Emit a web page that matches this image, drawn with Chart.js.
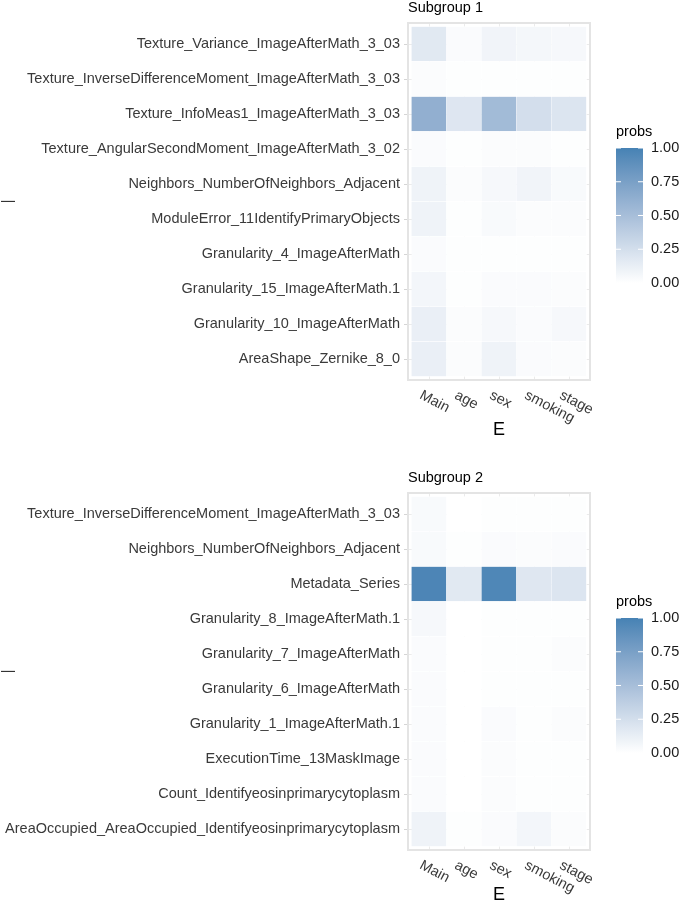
<!DOCTYPE html>
<html>
<head>
<meta charset="utf-8">
<script src="https://cdn.jsdelivr.net/npm/chart.js@4.4.1/dist/chart.umd.min.js"></script>
<style>
  body { margin: 0; background: #fff; }
  .panel { position: relative; width: 680px; }
  #wrap1 { height: 460px; }
  #wrap2 { height: 459px; }
</style>
</head>
<body>
<div class="panel" id="wrap1"><canvas id="chart1"></canvas></div>
<div class="panel" id="wrap2"><canvas id="chart2"></canvas></div>
<script>
// --- Data ---
const columns = ['Main', 'age', 'sex', 'smoking', 'stage'];
const legendTicks = [0, 0.25, 0.5, 0.75, 1];

const rows1 = [
    'Texture_Variance_ImageAfterMath_3_03',
    'Texture_InverseDifferenceMoment_ImageAfterMath_3_03',
    'Texture_InfoMeas1_ImageAfterMath_3_03',
    'Texture_AngularSecondMoment_ImageAfterMath_3_02',
    'Neighbors_NumberOfNeighbors_Adjacent',
    'ModuleError_11IdentifyPrimaryObjects',
    'Granularity_4_ImageAfterMath',
    'Granularity_15_ImageAfterMath.1',
    'Granularity_10_ImageAfterMath',
    'AreaShape_Zernike_8_0'
];
const s1Main    = [0.17, 0.02, 0.62, 0.03, 0.09, 0.09, 0.03, 0.07, 0.12, 0.12];
const s1Age     = [0.03, 0.01, 0.19, 0.01, 0.02, 0.01, 0.01, 0.01, 0.02, 0.02];
const s1Sex     = [0.08, 0.01, 0.53, 0.02, 0.05, 0.04, 0.01, 0.03, 0.05, 0.09];
const s1Smoking = [0.06, 0.01, 0.25, 0.02, 0.08, 0.02, 0.01, 0.03, 0.03, 0.03];
const s1Stage   = [0.05, 0.01, 0.20, 0.01, 0.04, 0.02, 0.01, 0.02, 0.05, 0.02];

const rows2 = [
    'Texture_InverseDifferenceMoment_ImageAfterMath_3_03',
    'Neighbors_NumberOfNeighbors_Adjacent',
    'Metadata_Series',
    'Granularity_8_ImageAfterMath.1',
    'Granularity_7_ImageAfterMath',
    'Granularity_6_ImageAfterMath',
    'Granularity_1_ImageAfterMath.1',
    'ExecutionTime_13MaskImage',
    'Count_Identifyeosinprimarycytoplasm',
    'AreaOccupied_AreaOccupied_Identifyeosinprimarycytoplasm'
];
const s2Main    = [0.04, 0.04, 0.97, 0.05, 0.03, 0.03, 0.03, 0.03, 0.03, 0.09];
const s2Age     = [0.00, 0.01, 0.17, 0.00, 0.00, 0.00, 0.00, 0.00, 0.00, 0.01];
const s2Sex     = [0.01, 0.03, 0.96, 0.01, 0.01, 0.01, 0.03, 0.02, 0.02, 0.03];
const s2Smoking = [0.01, 0.02, 0.18, 0.01, 0.01, 0.01, 0.01, 0.01, 0.01, 0.07];
const s2Stage   = [0.01, 0.03, 0.20, 0.01, 0.02, 0.01, 0.02, 0.01, 0.01, 0.02];

const FONT = '"Liberation Sans", Arial, sans-serif';
const LOW = [255, 255, 255];
const HIGH = [70, 130, 180]; // steelblue

// --- Escala de color: blanco -> steelblue, interpolada en Lab ---
function toLab(rgb) {
    const lin = rgb.map(v => { v /= 255; return v <= 0.04045 ? v / 12.92 : Math.pow((v + 0.055) / 1.055, 2.4); });
    const X = (lin[0] * 0.4124 + lin[1] * 0.3576 + lin[2] * 0.1805) / 0.95047;
    const Y = (lin[0] * 0.2126 + lin[1] * 0.7152 + lin[2] * 0.0722);
    const Z = (lin[0] * 0.0193 + lin[1] * 0.1192 + lin[2] * 0.9505) / 1.08883;
    const f = t => t > 0.008856 ? Math.cbrt(t) : 7.787 * t + 16 / 116;
    return [116 * f(Y) - 16, 500 * (f(X) - f(Y)), 200 * (f(Y) - f(Z))];
}

function fromLab(lab) {
    const fy = (lab[0] + 16) / 116, fx = fy + lab[1] / 500, fz = fy - lab[2] / 200;
    const inv = t => t * t * t > 0.008856 ? t * t * t : (t - 16 / 116) / 7.787;
    const X = inv(fx) * 0.95047, Y = inv(fy), Z = inv(fz) * 1.08883;
    const lin = [
        X * 3.2406 - Y * 1.5372 - Z * 0.4986,
        -X * 0.9689 + Y * 1.8758 + Z * 0.0415,
        X * 0.0557 - Y * 0.2040 + Z * 1.0570
    ];
    return lin.map(v => {
        v = v <= 0.0031308 ? 12.92 * v : 1.055 * Math.pow(v, 1 / 2.4) - 0.055;
        return Math.max(0, Math.min(255, Math.round(v * 255)));
    });
}

const LAB_LOW = toLab(LOW), LAB_HIGH = toLab(HIGH);

function heatColor(p) {
    const c = fromLab(LAB_LOW.map((lo, k) => lo + (LAB_HIGH[k] - lo) * p));
    return `rgb(${c[0]}, ${c[1]}, ${c[2]})`;
}

// una celda = barra flotante [j, j+1] en la fila i
function buildCells(series) {
    const cells = [];
    series.forEach((vals, j) => {
        vals.forEach((p, i) => cells.push({ x: [j, j + 1], y: i, p: p }));
    });
    return cells;
}

const decorPlugin = {
    id: 'decor',
    afterDraw(chart, args, opts) {
        const { ctx, chartArea: a, scales: { x } } = chart;
        ctx.save();

        // borde del panel
        ctx.strokeStyle = '#E4E4E4';
        ctx.lineWidth = 2;
        ctx.strokeRect(a.left, a.top, a.right - a.left, a.bottom - a.top);

        // titulo
        ctx.fillStyle = '#000';
        ctx.font = `14.5px ${FONT}`;
        ctx.textAlign = 'left';
        ctx.textBaseline = 'middle';
        ctx.fillText(opts.title, a.left, a.top - 15);

        // etiquetas del eje x, giradas
        ctx.fillStyle = '#3A3A3A';
        ctx.textBaseline = 'top';
        columns.forEach((c, j) => {
            const px = x.getPixelForValue(j + 0.5);
            ctx.save();
            ctx.translate(px - 5, a.bottom + 8);
            ctx.rotate(Math.PI / 6.5);
            ctx.fillText(c, 0, 0);
            ctx.restore();
        });

        // titulo eje x
        ctx.fillStyle = '#000';
        ctx.font = `18px ${FONT}`;
        ctx.textAlign = 'center';
        ctx.textBaseline = 'middle';
        ctx.fillText('E', (a.left + a.right) / 2, a.bottom + opts.xTitleGap);

        // barra de color (leyenda)
        const bx = a.right + 26, bw = 27;
        const by = a.top + 125, bh = 135;
        const grad = ctx.createLinearGradient(0, by, 0, by + bh);
        for (let k = 0; k <= 10; k++) grad.addColorStop(k / 10, heatColor(1 - k / 10));
        ctx.fillStyle = grad;
        ctx.fillRect(bx, by, bw, bh);

        ctx.fillStyle = '#000';
        ctx.font = `14.5px ${FONT}`;
        ctx.textAlign = 'left';
        ctx.textBaseline = 'middle';
        ctx.fillText('probs', bx, by - 16);

        ctx.strokeStyle = '#fff';
        ctx.lineWidth = 1;
        legendTicks.forEach(t => {
            const ty = by + bh * (1 - t);
            ctx.beginPath();
            ctx.moveTo(bx, ty); ctx.lineTo(bx + 5, ty);
            ctx.moveTo(bx + bw - 5, ty); ctx.lineTo(bx + bw, ty);
            ctx.stroke();
            ctx.fillStyle = '#1A1A1A';
            ctx.fillText(t.toFixed(2), bx + bw + 8, ty);
        });

        ctx.restore();
    }
};

function makeHeatmap(canvasId, rows, series, title, topPad, bottomSpace, xTitleGap) {
    const ctx = document.getElementById(canvasId).getContext('2d');
    return new Chart(ctx, {
        type: 'bar',
        data: {
            datasets: [{
                data: buildCells(series),
                backgroundColor: c => heatColor(c.raw.p),
                borderColor: '#fff',
                borderWidth: 0.6,
                barPercentage: 1,
                categoryPercentage: 1
            }]
        },
        options: {
            indexAxis: 'y',
            responsive: true,
            maintainAspectRatio: false,
            animation: false,
            events: [],
            layout: { padding: { top: topPad, right: 90, left: 0, bottom: 0 } },
            plugins: {
                legend: { display: false },
                tooltip: { enabled: false },
                decor: { title: title, xTitleGap: xTitleGap }
            },
            scales: {
                x: {
                    type: 'linear',
                    min: -0.1,
                    max: 5.1,
                    afterBuildTicks: s => { s.ticks = columns.map((c, j) => ({ value: j + 0.5 })); },
                    afterFit: s => { s.height = bottomSpace; },
                    ticks: { display: false },
                    grid: { color: '#EBEBEB', drawTicks: false },
                    border: { display: false }
                },
                y: {
                    type: 'linear',
                    reverse: true,
                    offset: false,
                    min: -0.6,
                    max: 9.6,
                    afterBuildTicks: s => { s.ticks = rows.map((r, i) => ({ value: i })); },
                    afterFit: s => { s.width = 408; },
                    ticks: {
                        autoSkip: false,
                        padding: 4,
                        color: '#3A3A3A',
                        font: { family: FONT, size: 14.5 },
                        callback: v => rows[v]
                    },
                    grid: { offset: false, color: '#EBEBEB', tickColor: '#D5D5D5', tickLength: 4 },
                    border: { display: false },
                    title: {
                        display: true,
                        text: '|',
                        color: '#333',
                        padding: 0,
                        font: { family: FONT, size: 14 }
                    }
                }
            }
        },
        plugins: [decorPlugin]
    });
}

makeHeatmap('chart1', rows1, [s1Main, s1Age, s1Sex, s1Smoking, s1Stage], 'Subgroup 1', 23, 80, 50);
makeHeatmap('chart2', rows2, [s2Main, s2Age, s2Sex, s2Smoking, s2Stage], 'Subgroup 2', 33, 69, 45);
</script>
</body>
</html>
